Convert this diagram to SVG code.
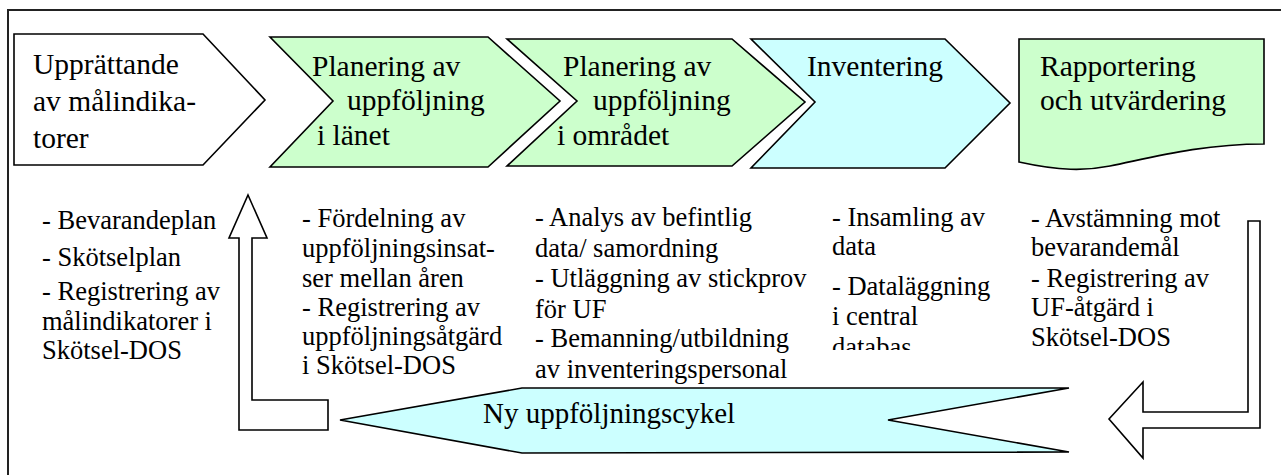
<svg xmlns="http://www.w3.org/2000/svg" width="1281" height="475" viewBox="0 0 1281 475">
<defs>
<style>
.sh{stroke:#000;stroke-width:1.6;stroke-linejoin:miter}
.w{fill:#fff}
.g{fill:#ccffcc}
.c{fill:#ccffff}
.t{font-family:"Liberation Serif","Times New Roman",serif;font-size:29.5px;fill:#000}
.b{font-family:"Liberation Serif","Times New Roman",serif;font-size:26.5px;fill:#000}
</style>
<clipPath id="clip4"><rect x="820" y="190" width="190" height="160"/></clipPath>
</defs>
<rect width="1281" height="475" fill="#fff"/>
<path d="M8,475 V10 H1281" fill="none" stroke="#222" stroke-width="2"/>

<g id="node-upprattande">
<polygon class="sh w" points="14,34 203,34 265,100 203,165 14,165"/>
<text class="t" x="33" y="74">Upprättande</text>
<text class="t" x="33" y="111">av målindika-</text>
<text class="t" x="33" y="148">torer</text>
</g>

<g id="node-planering-lanet">
<polygon class="sh g" points="270,37 488,37 560,101 488,167 270,167 333,101"/>
<text class="t" x="312" y="76">Planering av</text>
<text class="t" x="347" y="110">uppföljning</text>
<text class="t" x="317" y="145">i länet</text>
</g>

<g id="node-planering-omradet">
<polygon class="sh g" points="507,39 732,39 805,102 732,166 507,166 577,101"/>
<text class="t" x="563" y="76">Planering av</text>
<text class="t" x="593" y="110">uppföljning</text>
<text class="t" x="557" y="145">i området</text>
</g>

<g id="node-inventering">
<polygon class="sh c" points="751,39 945,39 1010,103 945,168 751,168 815,102"/>
<text class="t" x="807" y="76">Inventering</text>
</g>

<g id="node-rapportering">
<path class="sh g" d="M1019,39 H1264 V144 C1200,144 1150,158 1110,166 C1085,171 1060,171 1019,162 Z"/>
<text class="t" x="1040" y="76">Rapportering</text>
<text class="t" x="1040" y="110">och utvärdering</text>
</g>

<g id="text-col1">
<text class="b" x="42" y="229">- Bevarandeplan</text>
<text class="b" x="42" y="266">- Skötselplan</text>
<text class="b" x="42" y="300">- Registrering av</text>
<text class="b" x="42" y="330">målindikatorer i</text>
<text class="b" x="42" y="359">Skötsel-DOS</text>
</g>

<g id="text-col2">
<text class="b" x="302" y="227">- Fördelning av</text>
<text class="b" x="302" y="257">uppföljningsinsat-</text>
<text class="b" x="302" y="287">ser mellan åren</text>
<text class="b" x="302" y="316">- Registrering av</text>
<text class="b" x="302" y="345">uppföljningsåtgärd</text>
<text class="b" x="302" y="374">i Skötsel-DOS</text>
</g>

<g id="text-col3">
<text class="b" x="535" y="226">- Analys av befintlig</text>
<text class="b" x="535" y="257">data/ samordning</text>
<text class="b" x="535" y="287">- Utläggning av stickprov</text>
<text class="b" x="535" y="318">för UF</text>
<text class="b" x="535" y="347">- Bemanning/utbildning</text>
<text class="b" x="535" y="378">av inventeringspersonal</text>
</g>

<g id="text-col4" clip-path="url(#clip4)">
<text class="b" x="832" y="226">- Insamling av</text>
<text class="b" x="832" y="255">data</text>
<text class="b" x="832" y="295">- Dataläggning</text>
<text class="b" x="832" y="325">i central</text>
<text class="b" x="832" y="356">databas</text>
</g>

<g id="text-col5">
<text class="b" x="1031" y="227">- Avstämning mot</text>
<text class="b" x="1031" y="256">bevarandemål</text>
<text class="b" x="1031" y="287">- Registrering av</text>
<text class="b" x="1031" y="316">UF-åtgärd i</text>
<text class="b" x="1031" y="346">Skötsel-DOS</text>
</g>

<g id="node-ny-cykel">
<polygon class="sh c" points="340,420 522,388 1069,388 888,420 1069,452 522,453"/>
<text class="t" x="483" y="423" style="font-size:29px">Ny uppföljningscykel</text>
</g>

<g id="connectors">
<polygon class="sh w" points="248,195 267,238 252,238 252,400 328,400 328,430 239,430 239,238 229,238"/>
<polygon class="sh w" points="1248,221 1260,221 1260,428 1143,428 1143,458 1109,419 1143,382 1143,412 1248,412"/>
</g>
</svg>
